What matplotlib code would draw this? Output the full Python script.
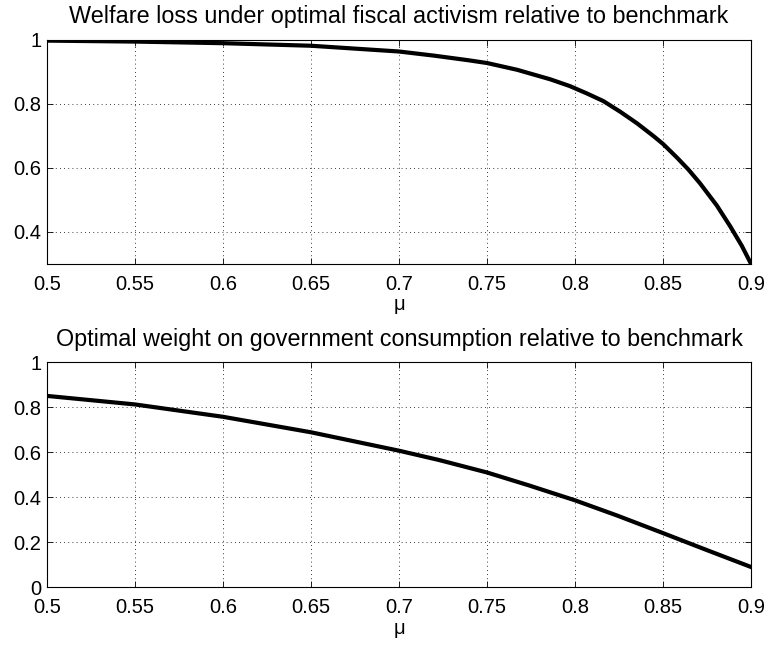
import numpy as np
import matplotlib
matplotlib.use("Agg")
import matplotlib.pyplot as plt

plt.rcParams["font.family"] = ["Liberation Sans", "DejaVu Sans"]

# values
mu_top = [0.50, 0.55, 0.60, 0.65, 0.70, 0.72, 0.739, 0.75, 0.767, 0.786,
          0.797, 0.8067, 0.8161, 0.8256, 0.8351, 0.8445, 0.85, 0.8578,
          0.8644, 0.871, 0.8805, 0.8881, 0.8947, 0.90]
welfare_loss = [0.998, 0.995, 0.990, 0.982, 0.964, 0.951, 0.937, 0.928, 0.907,
                0.877, 0.856, 0.833, 0.809, 0.776, 0.740, 0.700, 0.675, 0.633,
                0.595, 0.552, 0.483, 0.418, 0.357, 0.300]

mu_bot = [0.50, 0.55, 0.60, 0.65, 0.70, 0.723, 0.75, 0.774, 0.80, 0.824,
          0.85, 0.875, 0.90]
gov_weight = [0.851, 0.813, 0.758, 0.689, 0.607, 0.565, 0.510, 0.452, 0.386,
              0.318, 0.240, 0.164, 0.089]

xticks = [0.5, 0.55, 0.6, 0.65, 0.7, 0.75, 0.8, 0.85, 0.9]
xticklabels = ["0.5", "0.55", "0.6", "0.65", "0.7", "0.75", "0.8", "0.85", "0.9"]

fig = plt.figure(figsize=(7.68, 6.48), dpi=100)
ax1 = fig.add_axes([0.061, 0.5926, 0.917, 0.3457])
ax2 = fig.add_axes([0.061, 0.0941, 0.917, 0.3466])


def style(ax, yticks, ylabels, ylim, title):
    ax.set_xlim(0.5, 0.9)
    ax.set_ylim(*ylim)
    ax.set_xticks(xticks)
    ax.set_xticklabels(xticklabels)
    ax.set_yticks(yticks)
    ax.set_yticklabels(ylabels)
    ax.tick_params(direction="in", top=True, right=True, labelsize=14.5,
                   length=4, width=0.6)
    ax.tick_params(axis="x", pad=8)
    ax.tick_params(axis="y", pad=4)
    ax.grid(True, color="black", linestyle=(0, (1, 4)), linewidth=0.6)
    for s in ax.spines.values():
        s.set_linewidth(0.8)
    ax.set_xlabel("\u03bc", fontsize=14.5, labelpad=1)
    ax.set_title(title, fontsize=16.8, pad=12)


ax1.plot(mu_top, welfare_loss, color="black", linewidth=3.0,
         solid_joinstyle="round")
style(ax1, [0.4, 0.6, 0.8, 1.0], ["0.4", "0.6", "0.8", "1"], (0.3, 1.0),
      "Welfare loss under optimal fiscal activism relative to benchmark")

ax2.plot(mu_bot, gov_weight, color="black", linewidth=3.0,
         solid_joinstyle="round")
style(ax2, [0, 0.2, 0.4, 0.6, 0.8, 1.0], ["0", "0.2", "0.4", "0.6", "0.8", "1"],
      (0.0, 1.0),
      "Optimal weight on government consumption relative to benchmark")

fig.savefig("out.png", dpi=100)
